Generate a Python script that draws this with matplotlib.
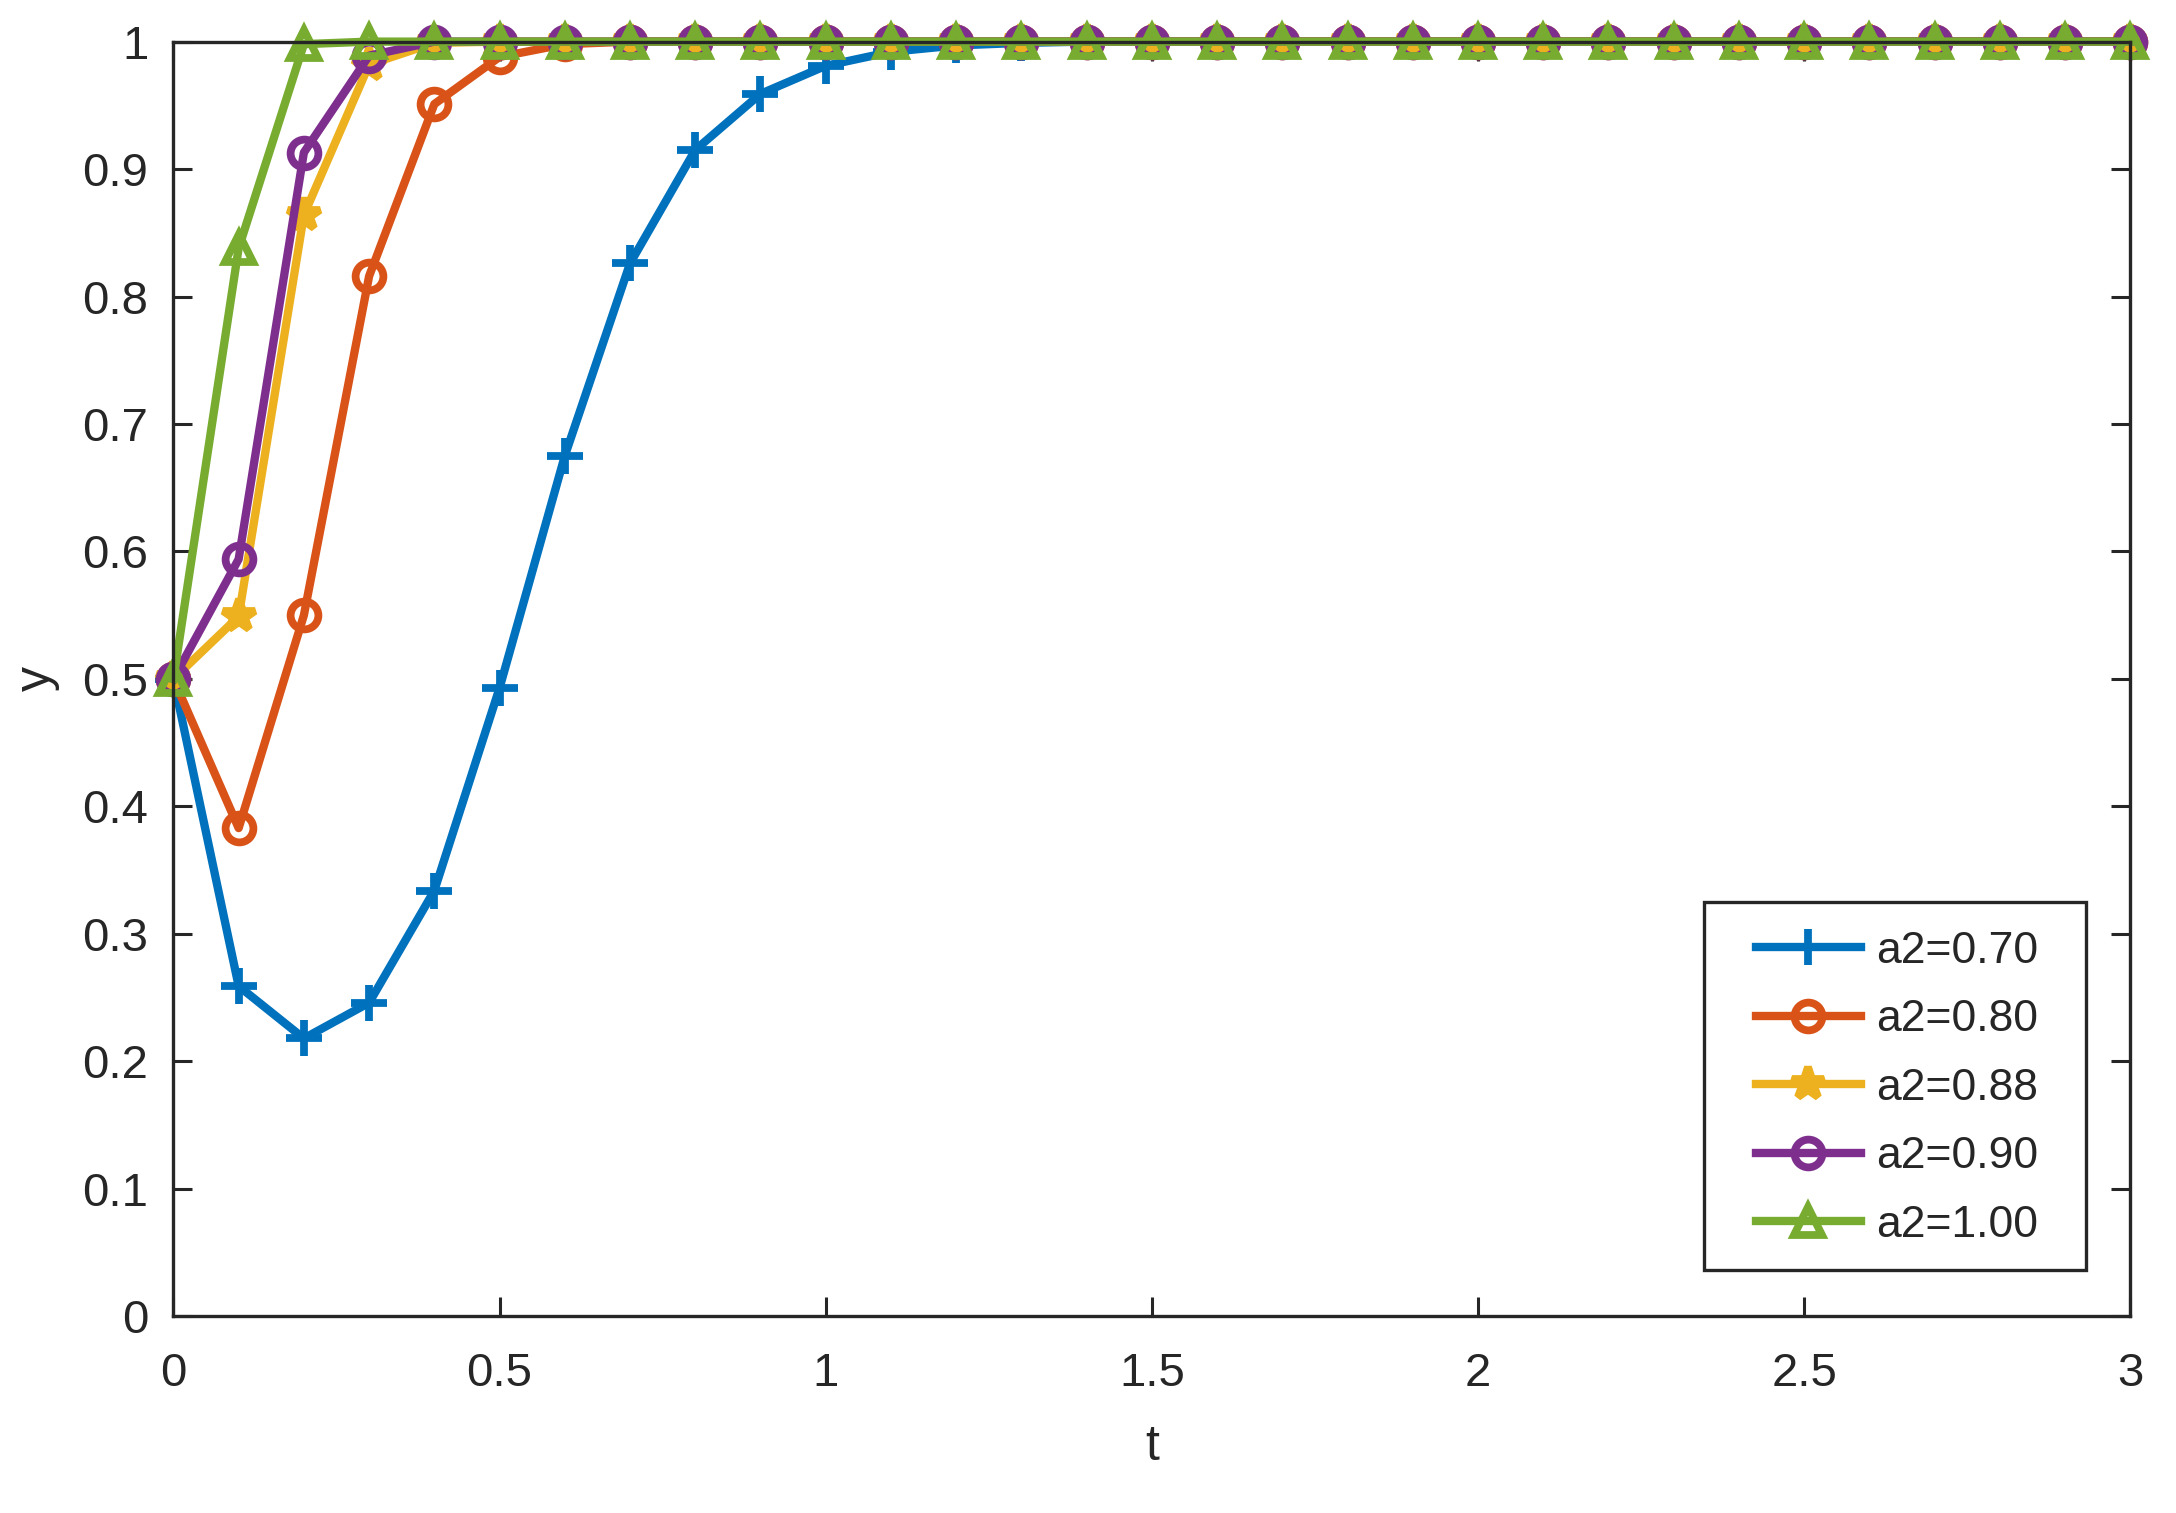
import matplotlib
matplotlib.use("Agg")
import matplotlib.pyplot as plt
from matplotlib.patches import Rectangle
import numpy as np

plt.rcParams['font.family'] = ['Liberation Sans', 'DejaVu Sans']

t = [round(0.1 * i, 1) for i in range(31)]

y_070 = [0.5, 0.259, 0.218, 0.246, 0.334, 0.493, 0.675, 0.826, 0.915, 0.959, 0.981, 0.992, 0.997, 0.999] + [1.0] * 17
y_080 = [0.5, 0.383, 0.550, 0.816, 0.951, 0.988, 0.998] + [1.0] * 24
y_088 = [0.5, 0.549, 0.864, 0.982, 0.999] + [1.0] * 26
y_090 = [0.5, 0.594, 0.913, 0.989, 1.0] + [1.0] * 26
y_100 = [0.5, 0.838, 0.998, 1.0] + [1.0] * 27

labels = ['a2=0.70', 'a2=0.80', 'a2=0.88', 'a2=0.90', 'a2=1.00']
colors = ['#0072BD', '#D95319', '#EDB120', '#7E2F8E', '#77AC30']
markers = ['+', 'o', '*', 'o', '^']
series = [y_070, y_080, y_088, y_090, y_100]

xticks = [0, 0.5, 1, 1.5, 2, 2.5, 3]
xticklabels = ['0', '0.5', '1', '1.5', '2', '2.5', '3']
yticks = [0, 0.1, 0.2, 0.3, 0.4, 0.5, 0.6, 0.7, 0.8, 0.9, 1]
yticklabels = ['0', '0.1', '0.2', '0.3', '0.4', '0.5', '0.6', '0.7', '0.8', '0.9', '1']

fig = plt.figure(figsize=(10.88, 7.565), dpi=200)
ax = fig.add_axes([0.0797, 0.130, 0.979 - 0.0797, 0.9725 - 0.130])

txt = '#262626'
for ys, lab, c, m in zip(series, labels, colors, markers):
    ms = {'+': 13, '*': 12, 'o': 10, '^': 10}[m]
    ax.plot(t, ys, color=c, marker=m, markersize=ms, markerfacecolor='none',
            markeredgecolor=c, markeredgewidth=2.8, linewidth=3.0, label=lab,
            clip_on=False)

ax.set_xlim(0, 3)
ax.set_ylim(0, 1)
ax.set_xticks(xticks)
ax.set_xticklabels(xticklabels)
ax.set_yticks(yticks)
ax.set_yticklabels(yticklabels)
ax.tick_params(direction='in', length=7, width=1.1, colors=txt, labelsize=17,
               top=True, right=True)
ax.tick_params(axis='x', pad=13)
ax.tick_params(axis='y', pad=9)
for s in ax.spines.values():
    s.set_color(txt)
    s.set_linewidth(1.2)

ax.set_xlabel('t', fontsize=18, color=txt, labelpad=10)
ax.set_ylabel('y', fontsize=18, color=txt, labelpad=8)

# legend frame (MATLAB-style box with wider side margins)
frame = Rectangle((0.7823, 0.0361), 0.9775 - 0.7823, 0.3249 - 0.0361,
                  transform=ax.transAxes, facecolor='white', edgecolor=txt,
                  linewidth=1.2, zorder=9)
ax.add_patch(frame)

leg = ax.legend(loc='center', bbox_to_anchor=(0.8809, 0.1790), borderaxespad=0,
                fontsize=16, frameon=False, handlelength=2.35,
                labelspacing=0.62, borderpad=0.0, handletextpad=0.35)
leg.set_zorder(10)
for text in leg.get_texts():
    text.set_color(txt)

fig.savefig('out.png', dpi=200, facecolor='white')
